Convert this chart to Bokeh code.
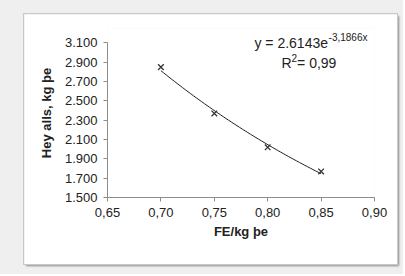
import numpy as np
from bokeh.plotting import figure
from bokeh.layouts import column
from bokeh.models import (FixedTicker, CustomJSTickFormatter, Label, Range1d)
from bokeh.embed import file_html
from bokeh.resources import INLINE

# data
fe_per_kg = [0.70, 0.75, 0.80, 0.85]
hey_alls = [2850, 2370, 2020, 1770]
x_ticks = [0.65, 0.70, 0.75, 0.80, 0.85, 0.90]
y_ticks = [1500, 1700, 1900, 2100, 2300, 2500, 2700, 2900, 3100]
x_title = "FE/kg þe"
y_title = "Hey alls, kg þe"
eq_main = "y = 2.6143e"
eq_sup = "-3,1866x"
r2_main = "R"
r2_sup = "2"
r2_rest = " = 0,99"

FONT = "Liberation Sans"

p = figure(width=373, height=250, output_backend="svg", toolbar_location=None,
           x_range=Range1d(0.65, 0.90), y_range=Range1d(1500, 3250),
           min_border_left=83, min_border_right=23, min_border_top=14, min_border_bottom=67,
           background_fill_color="white", border_fill_color="white",
           styles={"box-shadow": "2px 2px 2px #8a8a8a", "outline": "1px solid #c8c8c8"})
p.margin = (14, 6, 10, 24)
p.outline_line_color = None
p.grid.visible = False

# exponential trend line (least squares on log values)
b, a = np.polyfit(fe_per_kg, np.log(hey_alls), 1)
xs = np.linspace(min(fe_per_kg), max(fe_per_kg), 60)
p.line(xs, np.exp(a + b * xs), line_color="#202020", line_width=1)
p.scatter(fe_per_kg, hey_alls, marker="x", size=8, line_color="#333333", line_width=1.3)

for ax in (p.xaxis[0], p.yaxis[0]):
    ax.axis_line_color = "#8c8c8c"
    ax.major_tick_line_color = "#8c8c8c"
    ax.major_tick_out = 4
    ax.major_tick_in = 0
    ax.minor_tick_line_color = None
    ax.major_label_text_font = FONT
    ax.major_label_text_font_size = "13px"
    ax.major_label_text_color = "#222222"
    ax.axis_label_text_font = FONT
    ax.axis_label_text_font_size = "13px"
    ax.axis_label_text_font_style = "bold"
    ax.axis_label_text_color = "#222222"

p.xaxis.ticker = FixedTicker(ticks=x_ticks)
p.yaxis.ticker = FixedTicker(ticks=y_ticks)
p.yaxis.bounds = (y_ticks[0], y_ticks[-1])
p.xaxis.formatter = CustomJSTickFormatter(code="return tick.toFixed(2).replace('.', ',');")
p.yaxis.formatter = CustomJSTickFormatter(
    code="return tick.toFixed(0).replace(/\\B(?=(\\d{3})+(?!\\d))/g, '.');")
p.xaxis.axis_label = x_title
p.yaxis.axis_label = y_title
p.xaxis.major_label_standoff = 6
p.xaxis.axis_label_standoff = 4
p.yaxis.major_label_standoff = 6
p.yaxis.axis_label_standoff = 8

def lab(x, y, t, size):
    p.add_layout(Label(x=x, y=y, text=t, text_font=FONT, text_font_size=size,
                       text_color="#222222", text_baseline="middle", text_align="left"))

lab(0.7876, 3095, eq_main, "14px")
lab(0.8570, 3157, eq_sup, "10px")
lab(0.8130, 2888, r2_main, "14px")
lab(0.8222, 2940, r2_sup, "10px")
lab(0.8275, 2888, r2_rest, "14px")

layout = column(p, styles={"background-color": "#efefef"})

open("out.html", "w").write(file_html(layout, INLINE))
